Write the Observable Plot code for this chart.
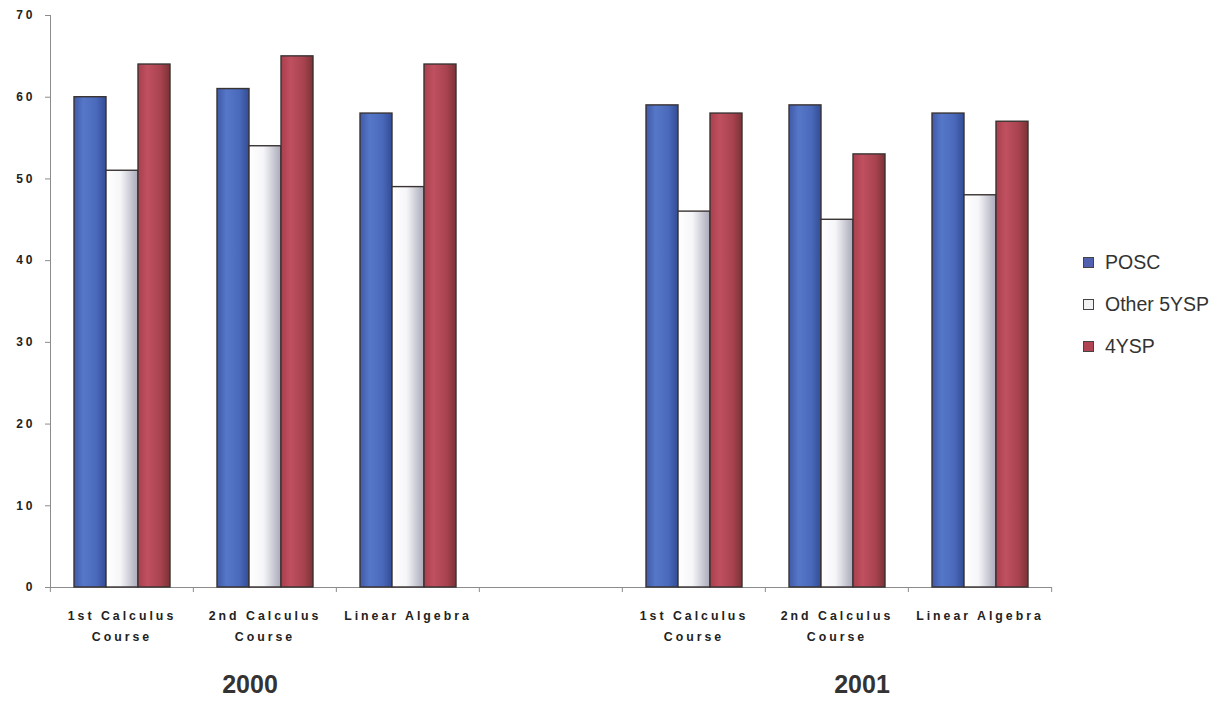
<!DOCTYPE html>
<html>
<head>
<meta charset="utf-8">
<script src="https://cdn.jsdelivr.net/npm/d3@7"></script>
<script src="https://cdn.jsdelivr.net/npm/@observablehq/plot@0.6"></script>
<style>
  body { margin: 0; background: #fff; }
  #chart { position: relative; width: 1230px; height: 706px; }
  #chart svg g[aria-label$="tick label"] text { letter-spacing: 3px; }
  #legend { position: absolute; left: 1083px; top: 241px; font: 19.5px "Liberation Sans", Arial, sans-serif; color: #333; }
  #legend .item { display: flex; align-items: center; height: 42px; }
  #legend .sw { width: 9px; height: 9px; border: 1px solid #444; margin-right: 11px; }
</style>
</head>
<body>
<div id="chart"><div id="legend"></div></div>
<script>
// ---- data ----
const years = ["2000", "2001"];
const courses = ["1st Calculus Course", "2nd Calculus Course", "Linear Algebra"];
const courseLabels = ["1st Calculus\nCourse", "2nd Calculus\nCourse", "Linear Algebra"];
const series = ["POSC", "Other 5YSP", "4YSP"];
// values per (year, course): 2000 x 3 courses, then 2001 x 3 courses
const posc   = [60, 61, 58, 59, 59, 58];
const other  = [51, 54, 49, 46, 45, 48];
const fourY  = [64, 65, 64, 58, 53, 57];
const yTicks = [0, 10, 20, 30, 40, 50, 60, 70];
const seriesColors = ["#5161b0", "#f2f2f4", "#b04452"];

// ---- build table ----
const gapKey = "gap";
const groupKeys = [];
years.forEach((y, yi) => {
  courses.forEach(c => groupKeys.push(y + "|" + c));
  if (yi < years.length - 1) groupKeys.push(gapKey);
});
const labelOf = {};
years.forEach(y => courses.forEach((c, ci) => labelOf[y + "|" + c] = courseLabels[ci]));
const values = [posc, other, fourY];
const rows = [];
years.forEach((y, yi) => courses.forEach((c, ci) => {
  series.forEach((s, si) => rows.push({group: y + "|" + c, series: s, value: values[si][yi * 3 + ci]}));
}));
const yearLabels = years.map(y => ({year: y, group: y + "|" + courses[1]}));

const W = 1230, H = 706, mL = 49, mR = 178, mT = 15, mB = 119;
const facetW = (W - mL - mR) / groupKeys.length;
const font = "'Liberation Sans', Arial, sans-serif";

const chart = Plot.plot({
  width: W, height: H,
  marginLeft: mL, marginRight: mR, marginTop: mT, marginBottom: mB,
  style: {fontFamily: font, background: "white", color: "#222"},
  fx: {domain: groupKeys, paddingInner: 0, paddingOuter: 0, label: null},
  x: {domain: series, paddingInner: 0, paddingOuter: 0.68, axis: null},
  y: {domain: [0, 70], label: null},
  color: {domain: series, range: ["url(#gBlue)", "url(#gWhite)", "url(#gRed)"]},
  marks: [
    Plot.frame({anchor: "left", facet: "super", stroke: "#8c8c8c", strokeOpacity: 1}),
    Plot.frame({anchor: "bottom", facet: "super", stroke: "#8c8c8c", strokeOpacity: 1}),
    Plot.axisY({ticks: yTicks, facetAnchor: "left", tickSize: 5, tickPadding: 10, fontSize: 12, fontWeight: "bold", stroke: "#8c8c8c", label: null}),
    Plot.axisFx({anchor: "bottom", tickSize: 5, tickFormat: () => "", dx: -facetW / 2, stroke: "#8c8c8c", label: null}),
    Plot.axisFx({anchor: "bottom", ticks: [groupKeys[groupKeys.length - 1]], tickSize: 5, tickFormat: () => "", dx: facetW / 2, stroke: "#8c8c8c", label: null}),
    Plot.axisFx({anchor: "bottom", tickSize: 0, tickPadding: 17, tickFormat: k => labelOf[k] || "", lineHeight: 1.75, fontSize: 12.3, fontWeight: "bold", fill: "#222", label: null}),
    Plot.barY(rows, {fx: "group", x: "series", y: "value", fill: "series", stroke: "#3a3333", strokeWidth: 1.4}),
    Plot.text(yearLabels.slice(0, 1), {fx: "group", text: "year", frameAnchor: "bottom", dy: 105, dx: -15, fontSize: 25, fontWeight: "bold", fill: "#333"}),
    Plot.text(yearLabels.slice(1), {fx: "group", text: "year", frameAnchor: "bottom", dy: 105, dx: 25, fontSize: 25, fontWeight: "bold", fill: "#333"})
  ]
});

// gradient definitions for the cylindrical bar shading
const defs = d3.select(chart).insert("defs", ":first-child");
function grad(id, stops) {
  const g = defs.append("linearGradient").attr("id", id).attr("x1", 0).attr("x2", 1).attr("y1", 0).attr("y2", 0);
  stops.forEach(([o, c]) => g.append("stop").attr("offset", o).attr("stop-color", c));
}
grad("gBlue", [[0, "#3f5aa8"], [0.3, "#5677c8"], [0.7, "#4a69ba"], [1, "#334d96"]]);
grad("gWhite", [[0, "#ffffff"], [0.45, "#f6f6f9"], [1, "#a9a9b9"]]);
grad("gRed", [[0, "#a93f4e"], [0.3, "#c0505f"], [0.7, "#a8434f"], [1, "#7c3236"]]);

document.getElementById("chart").prepend(chart);

const legend = d3.select("#legend");
series.forEach((s, i) => {
  const it = legend.append("div").attr("class", "item");
  it.append("div").attr("class", "sw").style("background", seriesColors[i]);
  it.append("span").text(s);
});
</script>
</body>
</html>
